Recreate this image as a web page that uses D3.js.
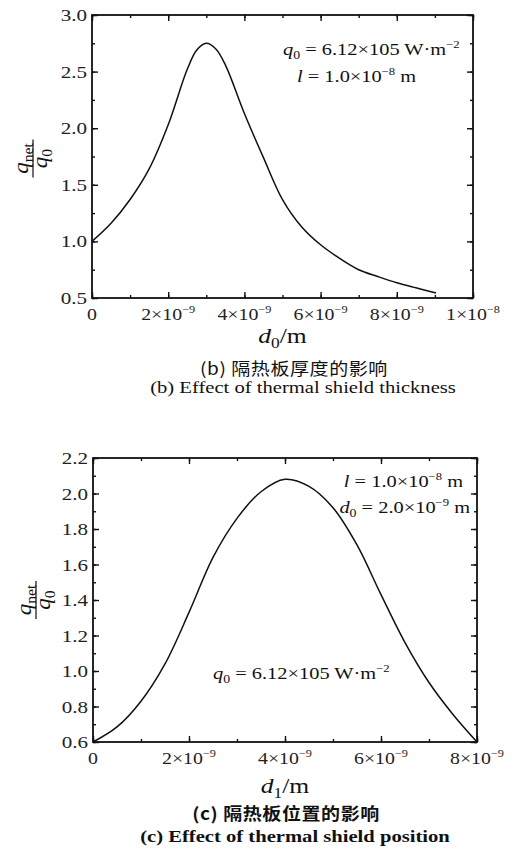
<!DOCTYPE html>
<html>
<head>
<meta charset="utf-8">
<script src="https://cdn.jsdelivr.net/npm/d3@7"></script>
<style>
html,body{margin:0;padding:0;background:#fff;}
svg{display:block;}
</style>
</head>
<body>
<svg id="c" width="517" height="857"></svg>
<script>
// ---------- DATA (x values in units of 1e-9 m) ----------
const thickX = [0, 0.5, 1.0, 1.5, 2.0, 2.5, 2.75, 3.0, 3.25, 3.5, 4.0, 4.5, 5.0, 5.5, 6.0, 6.5, 7.0, 7.5, 8.0, 8.5, 9.03];
const thickY = [1.0, 1.16, 1.37, 1.64, 2.03, 2.52, 2.69, 2.75, 2.70, 2.56, 2.13, 1.74, 1.37, 1.13, 0.97, 0.85, 0.75, 0.69, 0.635, 0.59, 0.545];

const posX = [0, 0.5, 1.0, 1.5, 2.0, 2.5, 3.0, 3.5, 4.0, 4.5, 5.0, 5.5, 6.0, 6.5, 7.0, 7.5, 8.0];
const posY = [0.6, 0.685, 0.83, 1.04, 1.33, 1.64, 1.86, 2.01, 2.08, 2.04, 1.92, 1.71, 1.43, 1.16, 0.935, 0.755, 0.6];

const thickXTicks = [0, 2, 4, 6, 8, 10];
const thickXTickLabels = [["0", ""], ["2×10", "−9"], ["4×10", "−9"], ["6×10", "−9"], ["8×10", "−9"], ["1×10", "−8"]];
const thickYTicks = [0.5, 1.0, 1.5, 2.0, 2.5, 3.0];
const thickYTickLabels = ["0.5", "1.0", "1.5", "2.0", "2.5", "3.0"];

const posXTicks = [0, 2, 4, 6, 8];
const posXTickLabels = [["0", ""], ["2×10", "−9"], ["4×10", "−9"], ["6×10", "−9"], ["8×10", "−9"]];
const posYTicks = [0.6, 0.8, 1.0, 1.2, 1.4, 1.6, 1.8, 2.0, 2.2];
const posYTickLabels = ["0.6", "0.8", "1.0", "1.2", "1.4", "1.6", "1.8", "2.0", "2.2"];

const captionB = ["(b) 隔热板厚度的影响", "(b) Effect of thermal shield thickness"];
const captionC = ["(c) 隔热板位置的影响", "(c) Effect of thermal shield position"];

// ---------- DRAW ----------
const svg = d3.select("#c");
const SERIF = "'Liberation Serif','DejaVu Serif',serif";
const CJK = "'Noto Sans CJK SC','Liberation Serif',serif";
const SX = 1.24; // horizontal stretch of the reference's lettering

function rich(g, x, y, segs, size, anchor, sx, rot) {
  const wrap = g.append("g")
    .attr("transform", `translate(${x},${y})` + (rot ? ` rotate(${rot})` : "") + ` scale(${sx || SX},1)`);
  const t = wrap.append("text").attr("x", 0).attr("y", 0)
    .attr("font-family", SERIF).attr("font-size", size)
    .attr("text-anchor", anchor || "start").attr("fill", "#111");
  let shift = 0;
  segs.forEach(([txt, kind]) => {
    const s = t.append("tspan").text(txt);
    let target = 0;
    if (kind === "sup") { s.attr("font-size", size * 0.62); target = -size * 0.42; }
    else if (kind === "sub") { s.attr("font-size", size * 0.68); target = size * 0.24; }
    else if (kind === "i") { s.attr("font-style", "italic"); }
    if (target !== shift) { s.attr("dy", target - shift); shift = target; }
  });
  return t;
}

function panel(cfg) {
  const g = svg.append("g");
  const x = d3.scaleLinear().domain(cfg.xDomain).range([cfg.left, cfg.right]);
  const y = d3.scaleLinear().domain(cfg.yDomain).range([cfg.bottom, cfg.top]);

  const axisStyle = sel => {
    sel.select(".domain").remove();
    sel.selectAll("line").attr("stroke", "#111").attr("stroke-width", 1.4);
    sel.selectAll("text").remove();
  };
  const minorX = d3.range(cfg.xDomain[0], cfg.xDomain[1] + 1e-9, cfg.xMinor);
  const minorY = d3.range(cfg.yDomain[0], cfg.yDomain[1] + 1e-9, cfg.yMinor);
  const mk = (axisFn, scale, vals, len, tr) => {
    g.append("g").attr("transform", tr)
      .call(axisFn(scale).tickValues(vals).tickSize(len).tickFormat(""))
      .call(axisStyle);
  };
  mk(d3.axisTop, x, cfg.xTicks, 6, `translate(0,${cfg.bottom})`);
  mk(d3.axisTop, x, minorX, 3, `translate(0,${cfg.bottom})`);
  mk(d3.axisBottom, x, cfg.xTicks, 6, `translate(0,${cfg.top})`);
  mk(d3.axisBottom, x, minorX, 3, `translate(0,${cfg.top})`);
  mk(d3.axisRight, y, cfg.yTicks, 6, `translate(${cfg.left},0)`);
  mk(d3.axisRight, y, minorY, 3, `translate(${cfg.left},0)`);
  mk(d3.axisLeft, y, cfg.yTicks, 6, `translate(${cfg.right},0)`);
  mk(d3.axisLeft, y, minorY, 3, `translate(${cfg.right},0)`);

  g.append("rect").attr("x", cfg.left).attr("y", cfg.top)
    .attr("width", cfg.right - cfg.left).attr("height", cfg.bottom - cfg.top)
    .attr("fill", "none").attr("stroke", "#111").attr("stroke-width", 1.8);

  cfg.yTicks.forEach((v, i) => {
    rich(g, cfg.left - 5, y(v) + 6, [[cfg.yTickLabels[i], ""]], 17, "end").attr("fill", "#222");
  });
  cfg.xTicks.forEach((v, i) => {
    const [m, e] = cfg.xTickLabels[i];
    rich(g, x(v), cfg.bottom + 22, e ? [[m, ""], [e, "sup"]] : [[m, ""]], 16, "middle").attr("fill", "#222");
  });

  const pts = cfg.xs.map((d, i) => [d, cfg.ys[i]]);
  g.append("path").datum(pts)
    .attr("d", d3.line().x(d => x(d[0])).y(d => y(d[1])).curve(d3.curveCatmullRom.alpha(0.5)))
    .attr("fill", "none").attr("stroke", "#111").attr("stroke-width", 1.5);

  const fx = cfg.yLabelX, fy = (cfg.top + cfg.bottom) / 2 + cfg.yLabelDy;
  const fg = g.append("g").attr("transform", `translate(${fx},${fy}) rotate(-90)`);
  rich(fg, 0, -5, [["q", "i"], ["net", "sub"]], 21, "middle", 1.1);
  fg.append("line").attr("x1", -19).attr("x2", 19).attr("y1", 0).attr("y2", 0)
    .attr("stroke", "#111").attr("stroke-width", 1.2);
  rich(fg, 0, 14, [["q", "i"], ["0", "sub"]], 21, "middle", 1.1);

  rich(g, (cfg.left + cfg.right) / 2, cfg.bottom + cfg.xLabelDy, [["d", "i"], [cfg.xSub, "sub"], ["/m", ""]], 20, "middle", 1.28);

  const c1 = svg.append("g").attr("transform", `translate(${cfg.cap1X},${cfg.bottom + cfg.cap1Dy}) scale(1.12,1)`);
  c1.append("text").attr("text-anchor", "middle").attr("font-family", CJK).attr("font-size", 17)
    .attr("letter-spacing", 0.5)
    .attr("font-weight", cfg.capBold ? "bold" : "normal").attr("fill", "#111").text(cfg.caption[0]);
  const c2 = svg.append("g").attr("transform", `translate(${cfg.cap2X},${cfg.bottom + cfg.cap2Dy}) scale(1.25,1)`);
  c2.append("text").attr("text-anchor", "middle").attr("font-family", SERIF).attr("font-size", 16.5)
    .attr("font-weight", cfg.capBold ? "bold" : "normal").attr("fill", "#111").text(cfg.caption[1]);

  return { g, x, y };
}

const pb = panel({
  left: 92, right: 473, top: 15, bottom: 298,
  xDomain: [0, 10], yDomain: [0.5, 3.0], xMinor: 1, yMinor: 0.25,
  xTicks: thickXTicks, xTickLabels: thickXTickLabels,
  yTicks: thickYTicks, yTickLabels: thickYTickLabels,
  xs: thickX, ys: thickY, xSub: "0",
  yLabelX: 33, yLabelDy: 2, xLabelDy: 45, cap1Dy: 77, cap2Dy: 95,
  cap1X: 294, cap2X: 303,
  caption: captionB, capBold: false
});
rich(pb.g, 283, 55, [["q", "i"], ["0", "sub"], [" = 6.12×105 W·m", ""], ["−2", "sup"]], 17, "start", 1.2);
rich(pb.g, 297, 82, [["l", "i"], [" = 1.0×10", ""], ["−8", "sup"], [" m", ""]], 17, "start", 1.2);

const pc = panel({
  left: 93, right: 477, top: 458, bottom: 742,
  xDomain: [0, 8], yDomain: [0.6, 2.2], xMinor: 1, yMinor: 0.1,
  xTicks: posXTicks, xTickLabels: posXTickLabels,
  yTicks: posYTicks, yTickLabels: posYTickLabels,
  xs: posX, ys: posY, xSub: "1",
  yLabelX: 36, yLabelDy: 0, xLabelDy: 51, cap1Dy: 78, cap2Dy: 100,
  cap1X: 286, cap2X: 295,
  caption: captionC, capBold: true
});
rich(pc.g, 463, 487, [["l", "i"], [" = 1.0×10", ""], ["−8", "sup"], [" m", ""]], 17, "end", 1.2);
rich(pc.g, 470, 513, [["d", "i"], ["0", "sub"], [" = 2.0×10", ""], ["−9", "sup"], [" m", ""]], 17, "end", 1.2);
rich(pc.g, 213, 679, [["q", "i"], ["0", "sub"], [" = 6.12×105 W·m", ""], ["−2", "sup"]], 17, "start", 1.2);
</script>
</body>
</html>
